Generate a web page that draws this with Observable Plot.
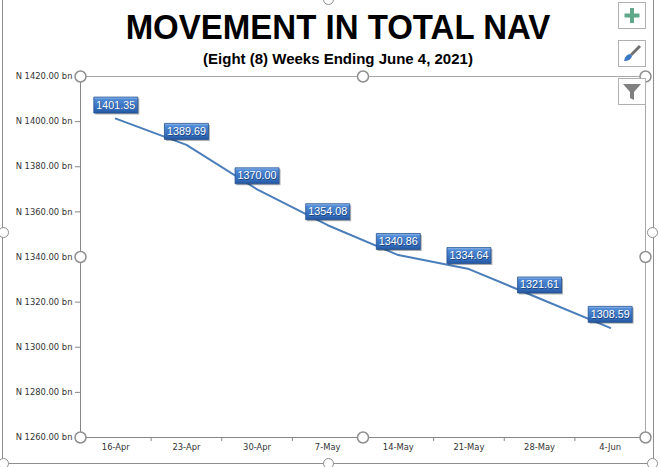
<!DOCTYPE html>
<html><head><meta charset="utf-8">
<script src="https://cdn.jsdelivr.net/npm/d3@7"></script>
<script src="https://cdn.jsdelivr.net/npm/@observablehq/plot@0.6"></script>
<style>
body{margin:0;background:#fff;}
#wrap{position:relative;width:660px;height:467px;overflow:hidden;font-family:"Liberation Sans",Arial,sans-serif;}
#frame{position:absolute;left:2px;top:-2px;width:652px;height:466px;border:1.5px solid #8e8e8e;box-sizing:border-box;}
#title{position:absolute;left:8px;top:11px;width:660px;text-align:center;font-weight:bold;font-size:33px;line-height:33px;color:#000;transform:scaleY(1.08);transform-origin:50% 80%;}
#sub{position:absolute;left:0;top:51px;width:676px;text-align:center;font-weight:bold;font-size:15px;line-height:15px;color:#000;}
#chart{position:absolute;left:0;top:70px;}
.h{position:absolute;width:11px;height:11px;border:1.5px solid #8f8f8f;border-radius:50%;background:#fff;box-sizing:border-box;}
.btn{position:absolute;left:618px;width:28px;height:27px;border:1px solid #b0b0b0;background:#fff;box-sizing:border-box;}
</style></head>
<body><div id="wrap">
<div id="frame"></div>
<div id="title">MOVEMENT IN TOTAL NAV</div>
<div id="sub">(Eight (8) Weeks Ending June 4, 2021)</div>
<div id="chart"></div>
<div class="h" style="left:-2px;top:227px"></div>
<div class="h" style="left:647px;top:227px"></div>
<div class="h" style="left:323px;top:-6px"></div>
<div class="h" style="left:-2px;top:458px"></div>
<div class="h" style="left:323px;top:458px"></div>
<div class="h" style="left:647px;top:458px"></div>
<div class="btn" style="top:2px"><svg width="26" height="25"><rect x="11" y="5" width="4" height="15" fill="#5fa98a"/><rect x="5.5" y="10.5" width="15" height="4" fill="#5fa98a"/></svg></div>
<div class="btn" style="top:40px"><svg width="26" height="25"><path d="M20 4 L22 6 L13 15 L11 13 Z" fill="#707070"/><path d="M11 13 L13 15 Q12 20 5 20 Q6 14 11 13 Z" fill="#3a78c2"/></svg></div>
<div class="btn" style="top:78px"><svg width="26" height="25"><path d="M4 5 H22 L15 13 V21 L11 19 V13 Z" fill="#808080"/></svg></div>
</div>
<script>
const weeks = ["16-Apr","23-Apr","30-Apr","7-May","14-May","21-May","28-May","4-Jun"];
const nav = [1401.35,1389.69,1370.00,1354.08,1340.86,1334.64,1321.61,1308.59];
const yTicks = [1260,1280,1300,1320,1340,1360,1380,1400,1420];

const data = weeks.map((w,i)=>({i, w, v: nav[i]}));
const n = weeks.length;
const boundaries = d3.range(-0.5, n, 1);
const y0 = yTicks[0], y1 = yTicks[yTicks.length-1];
const handles = [];
for (const hx of [-0.5, (n-1)/2, n-0.5]) for (const hy of [y0, (y0+y1)/2, y1]) if (!(hx===(n-1)/2 && hy===(y0+y1)/2)) handles.push({x:hx,y:hy});

const boxSym = {draw(ctx){ ctx.rect(-22,-8,44,16); }};

const defs = () => {
  const d = d3.create("svg:defs");
  const g = d.append("linearGradient").attr("id","lblgrad").attr("x1",0).attr("y1",0).attr("x2",0).attr("y2",1);
  [[0,"#9cc0ee"],[0.15,"#4f8ad6"],[0.8,"#3068b6"],[1,"#24559c"]].forEach(([o,c])=>g.append("stop").attr("offset",o).attr("stop-color",c));
  return d.node();
};

const chart = Plot.plot({
  width: 660, height: 397,
  marginTop: 6, marginBottom: 30, marginLeft: 80, marginRight: 15,
  style: {fontFamily: "DejaVu Sans, sans-serif", fontSize: "8.4px", color: "#404040", background: "transparent"},
  x: {domain: [-0.5, n-0.5], axis: null},
  y: {domain: [y0, y1], axis: null},
  marks: [
    defs,
    Plot.frame({stroke: "#a8a8a8"}),
    Plot.axisY({ticks: yTicks, tickSize: 5, tickPadding: 3, tickFormat: d => `N ${d.toFixed(2)} bn`, stroke: "#868686", fill: "#333"}),
    Plot.axisX({ticks: boundaries, tickSize: 4, tickFormat: () => "", stroke: "#868686"}),
    Plot.axisX({ticks: d3.range(n), tickSize: 0, tickPadding: 7, tickFormat: i => weeks[i], fill: "#333"}),
    Plot.ruleX([-0.5], {stroke: "#868686"}),
    Plot.ruleY([y0], {stroke: "#868686"}),
    Plot.line(data, {x: "i", y: "v", stroke: "#4a7ebb", strokeWidth: 2}),
    Plot.dot(data, {x: "i", y: "v", symbol: boxSym, r: 2, fill: "#000", fillOpacity: 0.3, dx: 1.5, dy: -12}),
    Plot.dot(data, {x: "i", y: "v", symbol: boxSym, r: 2, fill: "url(#lblgrad)", stroke: "#23508f", strokeWidth: 0.8, dy: -13.5}),
    Plot.text(data, {x: "i", y: "v", text: d => d.v.toFixed(2), fill: "#12305c", fillOpacity: 0.7, fontSize: 10.8, fontFamily: "Liberation Sans, Arial, sans-serif", dx: 0.7, dy: -12.8}),
    Plot.text(data, {x: "i", y: "v", text: d => d.v.toFixed(2), fill: "#fff", fontSize: 10.8, fontFamily: "Liberation Sans, Arial, sans-serif", dy: -13.5}),
    Plot.dot(handles, {x: "x", y: "y", r: 5.5, fill: "#fff", stroke: "#8f8f8f", strokeWidth: 1.5})
  ]
});
document.getElementById("chart").appendChild(chart);
</script>
</body></html>
